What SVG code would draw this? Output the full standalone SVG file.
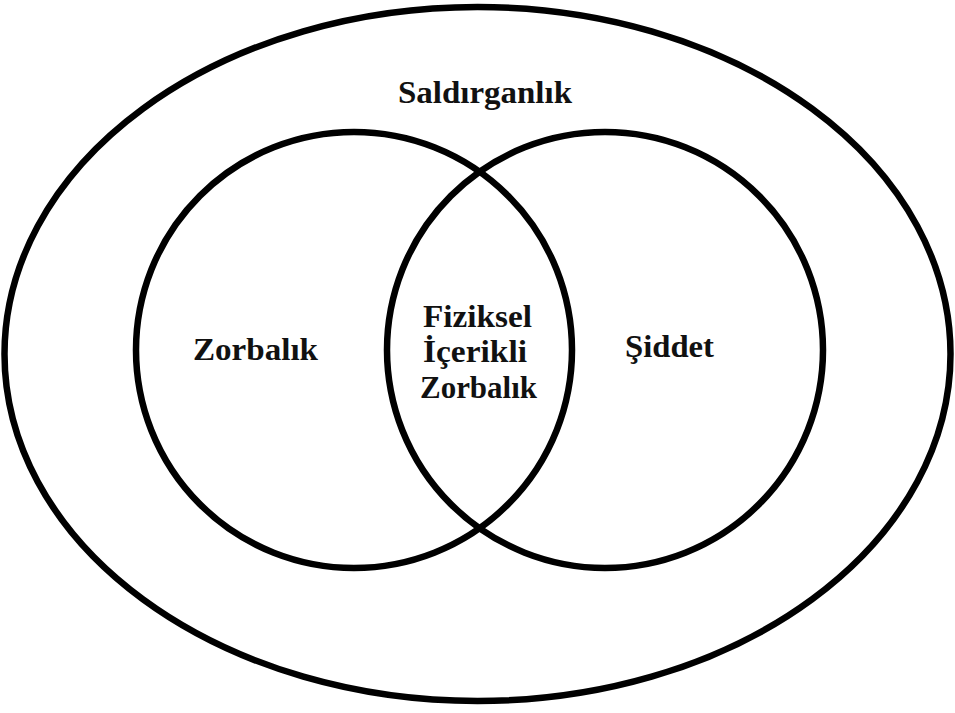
<svg xmlns="http://www.w3.org/2000/svg" width="955" height="713" viewBox="0 0 955 713">
<style>
.ring{fill:none;stroke:#000;stroke-width:6.5}
.lbl{font-family:"Liberation Serif","Times New Roman",serif;font-weight:bold;font-size:31px;fill:#111}
</style>
<rect width="955" height="713" fill="#fff"/>
<g id="saldirganlik">
<ellipse class="ring" cx="477.5" cy="354" rx="473" ry="347"/>
<text class="lbl" x="398" y="103" textLength="174" lengthAdjust="spacingAndGlyphs">Saldırganlık</text>
</g>
<g id="zorbalik">
<circle class="ring" cx="354" cy="350" r="218"/>
<text class="lbl" x="193" y="360" textLength="125" lengthAdjust="spacingAndGlyphs">Zorbalık</text>
</g>
<g id="siddet">
<circle class="ring" cx="605" cy="350" r="218"/>
<text class="lbl" x="625" y="357" textLength="89" lengthAdjust="spacingAndGlyphs">Şiddet</text>
</g>
<g id="fiziksel">
<text class="lbl" x="423" y="327" textLength="109" lengthAdjust="spacingAndGlyphs">Fiziksel</text>
<text class="lbl" x="423" y="362" textLength="104" lengthAdjust="spacingAndGlyphs">İçerikli</text>
<text class="lbl" x="420" y="398" textLength="117" lengthAdjust="spacingAndGlyphs">Zorbalık</text>
</g>
<g id="connectors"></g>
</svg>
